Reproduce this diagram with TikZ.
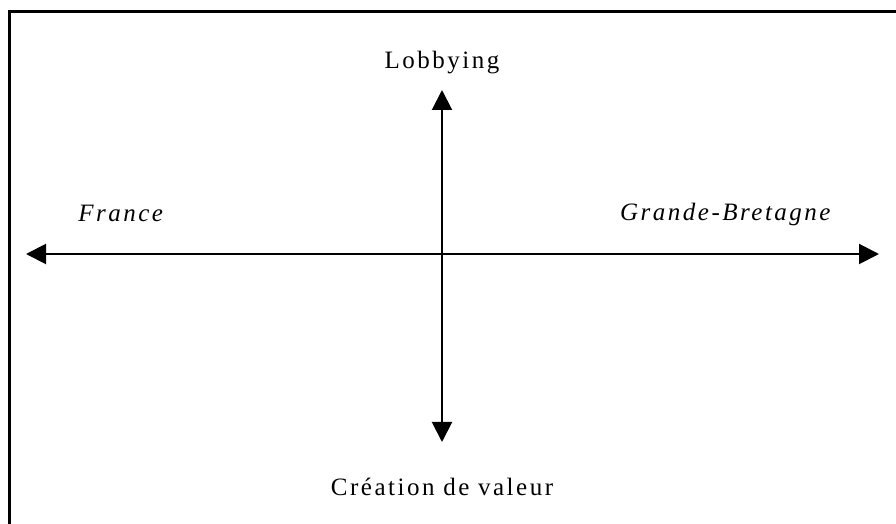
\documentclass[tikz,border=0pt]{standalone}
\usepackage{fontspec}
\setmainfont{Liberation Serif}
\newfontfamily\spaced{Liberation Serif}[LetterSpace=10]
\usetikzlibrary{arrows.meta, positioning}
\tikzstyle{axis} = [line width=1pt, {Triangle[length=10pt,width=10pt]}-{Triangle[length=10pt,width=10pt]}]
\tikzstyle{pole} = [font=\spaced\fontsize{12.5}{14}\selectfont\itshape, inner sep=0pt]
\tikzstyle{aim} = [font=\spaced\fontsize{12.5}{14}\selectfont, inner sep=0pt]

\begin{document}
\begin{tikzpicture}[x=0.5pt, y=-0.5pt, node distance=6pt]
    \useasboundingbox (0,0) rectangle (896,524);
    % open frame, left and top only
    \draw [line width=1.5pt] (9,524) -- (9,12) -- (896,12);
    \coordinate (west) at (26,254);
    \coordinate (east) at (879,254);
    \coordinate (north) at (442,90);
    \coordinate (south) at (442,442);
    \draw [axis] (west) -- (east);
    \draw [axis] (north) -- (south);
    \node [aim, above=8pt of north] (lobbying) {Lobbying};
    \node [aim, below=18pt of south] (valeur) {Création de valeur};
    \node [pole, above right=16pt and 26pt of west] (france) {France};
    \node [pole, above left=14pt and 24pt of east] (gb) {Grande-Bretagne};
\end{tikzpicture}
\end{document}
